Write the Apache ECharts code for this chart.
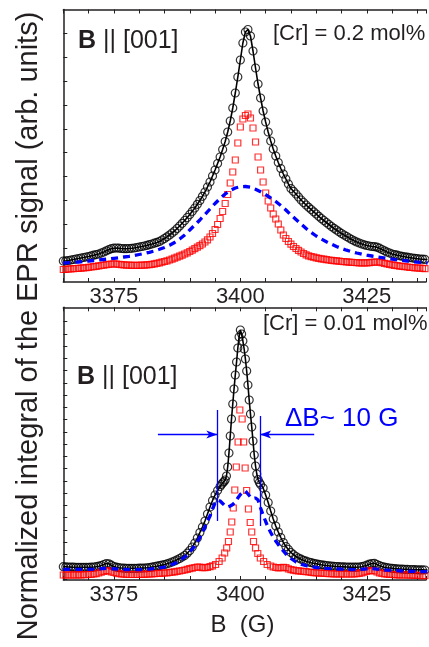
<!DOCTYPE html>
<html><head><meta charset="utf-8">
<script src="https://cdn.jsdelivr.net/npm/echarts@6/dist/echarts.min.js"></script>
<style>html,body{margin:0;padding:0;background:#fff}#c{width:429px;height:647px}</style>
</head><body><div id="c"></div>
<script>
// ---------- tick labels ----------
const xLabels = [3375, 3400, 3425];

// ---------- TOP PANEL ([Cr] = 0.2 mol%) ----------
const topX = [
3365,3365.5,3366,3366.5,3367,3367.5,3368,3368.5,3369,3369.5,
3370,3370.5,3371,3371.5,3372,3372.5,3373,3373.5,3374,3374.5,
3375,3375.5,3376,3376.5,3377,3377.5,3378,3378.5,3379,3379.5,
3380,3380.5,3381,3381.5,3382,3382.5,3383,3383.5,3384,3384.5,
3385,3385.5,3386,3386.5,3387,3387.5,3388,3388.5,3389,3389.5,
3390,3390.5,3391,3391.5,3392,3392.5,3393,3393.5,3394,3394.5,
3395,3395.5,3396,3396.5,3397,3397.5,3398,3398.5,3399,3399.5,
3400,3400.5,3401,3401.5,3402,3402.5,3403,3403.5,3404,3404.5,
3405,3405.5,3406,3406.5,3407,3407.5,3408,3408.5,3409,3409.5,
3410,3410.5,3411,3411.5,3412,3412.5,3413,3413.5,3414,3414.5,
3415,3415.5,3416,3416.5,3417,3417.5,3418,3418.5,3419,3419.5,
3420,3420.5,3421,3421.5,3422,3422.5,3423,3423.5,3424,3424.5,
3425,3425.5,3426,3426.5,3427,3427.5,3428,3428.5,3429,3429.5,
3430,3430.5,3431,3431.5,3432,3432.5,3433,3433.5,3434,3434.5,
3435,3435.5,3436,3436.5,3437];
const topBlack = [
21,21.2,21.5,22,22.5,23,23.5,24,24.5,25,
25.5,26.1,26.8,27.4,28,29,30,31.2,32.3,33.3,
33.8,34,33.8,33.5,33.3,33.3,33.5,33.7,34,34.5,
35,35.5,36,36.6,37.3,38,38.8,39.6,40.5,42,
43.5,45.2,47,49,51,53.5,56,58.7,61.5,64.5,
67.5,70.7,74,77.7,81.5,85.7,90,95,100,106,
112,118.5,125,132.5,140.5,150,161,174,189,205,
222,239,250,252.5,246,231,214,198,184,171,
160,150,141,133,126,119.5,113.5,108,103,98,
93.5,90.7,88,85,82,79.5,77,74.7,72.5,70.2,
68,65.7,63.5,61.5,59.5,57.5,55.5,53.7,52,50.2,
48.5,47,45.5,44,42.5,41.2,40,39,38,37.2,
36.5,36,35.5,35.3,34.8,33.8,32.5,31.2,30,29,
28,27.4,26.8,26.2,25.7,25.2,24.8,24.4,24,23.6,
23.3,23,22.8,22.6,22.5];
const topRed = [
12.5,12.7,13,13.2,13.3,13.5,13.7,13.9,14.1,14.4,
14.7,15,15.3,15.7,16.1,16.5,16.9,17.3,17.7,18,
18.2,18,17.7,17.4,17.1,16.9,16.8,16.7,16.7,16.7,
16.7,16.8,16.9,17.1,17.3,17.7,18.1,18.6,19.2,19.8,
20.5,21.2,22,22.9,23.8,24.8,25.8,26.9,28,29.2,
30.5,31.9,33.3,34.8,36.3,38,40,42.2,45,48.5,
52.5,57.5,63.5,70.5,78.5,87.5,99,110,122,139,
155,163,166.5,168,164,154,140,125,112,100,
89,81,74,68,63,58,52,47,43.5,40.5,
37.8,35.5,33.5,31.7,30,28.5,27.2,26.2,25.4,24.8,
24.2,23.7,23.2,22.8,22.4,22,21.7,21.4,21.1,20.8,
20.5,20.3,20.1,19.9,19.7,19.5,19.3,19.2,19.1,19.1,
19.2,19.4,19.7,19.9,20,19.8,19.3,18.7,18.1,17.6,
17.1,16.7,16.3,15.9,15.6,15.3,15,14.7,14.5,14.2,
14,13.8,13.6,13.4,13.2];
const topBlueX = [
3365,3366,3367,3368,3369,3370,3371,3372,3373,3374,
3375,3376,3377,3378,3379,3380,3381,3382,3383,3384,
3385,3386,3387,3388,3389,3390,3391,3392,3393,3394,
3395,3396,3397,3398,3399,3400,3401,3402,3403,3404,
3405,3406,3407,3408,3409,3410,3411,3412,3413,3414,
3415,3416,3417,3418,3419,3420,3421,3422,3423,3424,
3425,3426,3427,3428,3429,3430,3431,3432,3433,3434,
3435,3436,3437];
const topBlue = [
19,19.3,19.7,20,20.5,21,21.5,22,22.5,23,
23.7,24.3,25,25.7,26.5,27.5,28.5,29.7,31,32.7,
34.5,36.7,39.5,43,47,52,57,62,67.5,73,
78.5,83.5,88,91.5,94,95.3,95.5,94.7,92.7,90.3,
87.3,84,80.5,76.5,72,67,62.5,58,53.5,49.5,
46,43,40.3,37.8,35.5,33.5,31.8,30.3,29,27.8,
26.8,26,25.2,24.4,23.6,22.9,22.2,21.6,21,20.4,
19.9,19.4,19];

// ---------- BOTTOM PANEL ([Cr] = 0.01 mol%) ----------
const botBlackX = [
3365,3365.5,3366,3366.5,3367,3367.5,3368,3368.5,3369,3369.5,
3370,3370.5,3371,3371.5,3372,3372.5,3373,3373.5,3374,3374.5,
3375,3375.5,3376,3376.5,3377,3377.5,3378,3378.5,3379,3379.5,
3380,3380.5,3381,3381.5,3382,3382.5,3383,3383.5,3384,3384.5,
3385,3385.5,3386,3386.5,3387,3387.5,3388,3388.5,3389,3389.5,
3390,3390.5,3391,3391.5,3392,3392.5,3393,3393.5,3394,3394.5,
3395,3395.5,3396,
3396.25,3396.5,3396.75,3397,3397.25,3397.5,3397.75,3398,3398.25,3398.5,
3398.75,3399,3399.25,3399.5,3399.75,3400,3400.25,3400.5,3400.75,3401,
3401.25,3401.5,3401.75,3402,3402.25,3402.5,3402.75,3403,3403.25,3403.5,
3403.75,3404,
3404.5,3405,3405.5,3406,3406.5,3407,3407.5,3408,3408.5,3409,
3409.5,3410,3410.5,3411,3411.5,3412,3412.5,3413,3413.5,3414,
3414.5,3415,3415.5,3416,3416.5,3417,3417.5,3418,3418.5,3419,
3419.5,3420,3420.5,3421,3421.5,3422,3422.5,3423,3423.5,3424,
3424.5,3425,3425.5,3426,3426.5,3427,3427.5,3428,3428.5,3429,
3429.5,3430,3430.5,3431,3431.5,3432,3432.5,3433,3433.5,3434,
3434.5,3435,3435.5,3436,3436.5,3437];
const botBlack = [
13.3,13.2,13,12.9,12.8,12.7,12.7,12.7,12.7,12.7,
12.7,12.8,13,13.3,13.8,14.5,15.5,16.5,16.2,14.8,
13.5,12.8,12.3,12,11.8,11.7,11.7,11.7,11.7,11.7,
11.8,11.9,12,12.2,12.5,12.9,13.3,13.8,14.3,14.9,
15.5,16.2,17,18,19,20.2,21.5,23,24.5,26.8,
29.5,33,37,42,47.5,53,59,66,73,79.5,
85,89.5,93.5,
95.5,97,98.3,100,104,113,127,144,161,176,
191,205,218,232,243,250,246,239,231,221,
209,195,180,166,153,139,125,114,106,100.5,
97.5,95.5,
92,85,77.5,69,61,54,48,42.5,37.5,33.5,
30.5,27.5,25.3,23.5,22,20.8,19.7,18.8,18,17.3,
16.7,16.2,15.7,15.2,14.8,14.5,14.2,14,13.7,13.5,
13.3,13.2,13.1,13,12.9,12.8,12.8,12.8,13,13.3,
14,14.8,15.8,16.5,16.7,15.5,14.3,13.5,12.8,12.3,
12,11.7,11.4,11.2,11,10.8,10.7,10.6,10.5,10.4,
10.3,10.2,10.1,10.1,10,10];
const botRedX = [
3365,3365.5,3366,3366.5,3367,3367.5,3368,3368.5,3369,3369.5,
3370,3370.5,3371,3371.5,3372,3372.5,3373,3373.5,3374,3374.5,
3375,3375.5,3376,3376.5,3377,3377.5,3378,3378.5,3379,3379.5,
3380,3380.5,3381,3381.5,3382,3382.5,3383,3383.5,3384,3384.5,
3385,3385.5,3386,3386.5,3387,3387.5,3388,3388.5,3389,3389.5,
3390,3390.5,3391,3391.5,3392,3392.5,3393,3393.5,3394,3394.5,
3395.1,3395.8,3396.4,3396.9,3397.3,3397.65,3398,3398.3,3398.6,3398.9,
3399.2,3399.55,3399.9,3400.35,3400.65,3400.95,3401.25,3401.6,3401.95,3402.25,
3402.6,3403,3403.45,3403.95,3404.6,3405.3,
3406,3406.5,3407,3407.5,3408,3408.5,3409,3409.5,3410,3410.5,
3411,3411.5,3412,3412.5,3413,3413.5,3414,3414.5,3415,3415.5,
3416,3416.5,3417,3417.5,3418,3418.5,3419,3419.5,3420,3420.5,
3421,3421.5,3422,3422.5,3423,3423.5,3424,3424.5,3425,3425.5,
3426,3426.5,3427,3427.5,3428,3428.5,3429,3429.5,3430,3430.5,
3431,3431.5,3432,3432.5,3433,3433.5,3434,3434.5,3435,3435.5,
3436,3436.5,3437];
const botRed = [
5,5,5,5,5,5.1,5.2,5.2,5.3,5.4,
5.5,5.7,6,6.4,7,7.8,8.7,9.3,9,8.2,
7.5,6.8,6.3,6,5.8,5.6,5.5,5.5,5.5,5.5,
5.5,5.6,5.7,5.8,6,6.1,6.3,6.5,6.7,6.8,
7,7.2,7.5,7.8,8.2,8.6,9,9.5,10,10.6,
11.3,11.9,12.5,13,12.8,12.4,12.3,12.6,13.3,14.2,
15.5,18.5,22,27,32,38.5,48,58,72,90,
113,138,170,161,138,112,89.5,71,57.5,48,
38.5,32,26.5,22,18.5,15.5,
14,13,12.5,12.2,12.3,12.7,12.3,11.2,10.3,9.8,
9.4,9.1,8.8,8.5,8.3,8,7.7,7.4,7.2,7,
6.8,6.6,6.5,6.4,6.3,6.2,6.2,6.1,6,6,
6,6,6,6.1,6.3,6.7,7.2,7.9,8.7,9.3,
9.5,9,8,7.2,6.5,6.1,5.8,5.6,5.5,5.3,
5.2,5.1,5,5,5,4.9,4.8,4.7,4.6,4.5,
4.4,4.4,4.3];
const botBlueX = [
3365,3366,3367,3368,3369,3370,3371,3372,3373,3374,
3375,3376,3377,3378,3379,3380,3381,3382,3383,3384,
3385,3386,3387,3388,3389,
3389.5,3390,3390.5,3391,3391.5,3392,3392.5,3393,3393.5,3394,
3394.5,3395,3395.5,3396,3396.5,3397,3397.5,3398,3398.5,3399,
3399.5,3400,3400.5,3401,3401.5,3402,3402.5,3403,3403.5,3404,
3404.5,3405,3405.5,3406,3406.5,3407,3407.5,3408,3408.5,3409,
3409.5,3410,
3411,3412,3413,3414,3415,3416,3417,3418,3419,3420,
3421,3422,3423,3424,3425,3426,3427,3428,3429,3430,
3431,3432,3433,3434,3435,3436,3437];
const botBlue = [
10.7,10.7,10.7,10.7,10.7,10.7,10.8,11,11.5,11.7,
11.2,10.7,10.5,10.3,10.3,10.3,10.5,10.8,11.3,12,
13,14.5,16.5,19.5,23,
25.3,28,31,34,38,42.5,47.5,53,58.5,64,
71,77,80,79,76.5,74,73,74,75.5,78,
82,85.5,88,89,86,83,81.5,82,80,72,
65,58.5,52.5,47.5,43,39,35.5,32,29,26,
23.5,21.5,
18,15.8,14.3,13.3,12.5,12,11.6,11.3,11,10.8,
10.6,10.4,10.4,10.6,11.2,11.5,10.8,10.2,9.8,9.5,
9.3,9,8.8,8.6,8.5,8.4,8.3];

// width-marker annotation (bottom panel), in data units
const dBLeftB = 3395.45, dBRightB = 3403.9;

// ---------- build ----------
const zip = (xs, ys) => xs.map((x, i) => [x, ys[i]]);
const FONT = '"Liberation Sans", Arial, Helvetica, sans-serif';
const INK = '#231f20';

const topTicks = [], botTicks = [];
for (let k = 1; k <= 11; k++) topTicks.push(272.5 - 23.85 * k);
for (let k = 0; k <= 21; k++) botTicks.push(258.4 - 12.25 * k);

function xAx(grid, pos, labels) {
  return {
    type: 'value', gridIndex: grid, position: pos, min: 3365, max: 3436.7, interval: 5,
    axisLine: { show: true, onZero: false, lineStyle: { color: INK, width: 1.5 } },
    axisTick: { show: true, inside: true, length: 4, lineStyle: { color: INK, width: 1 } },
    axisLabel: labels ? {
      show: true, fontSize: 22, color: INK, fontFamily: FONT, margin: 4,
      formatter: v => xLabels.indexOf(v) >= 0 ? String(v) : ''
    } : { show: false },
    splitLine: { show: false }
  };
}
function yAx(grid, max, ticks) {
  return {
    type: 'value', gridIndex: grid, min: 0, max: max,
    axisLine: { show: true, lineStyle: { color: INK, width: 1.5 } },
    axisTick: { show: true, inside: true, length: 4, customValues: ticks, lineStyle: { color: INK, width: 1 } },
    axisLabel: { show: false },
    splitLine: { show: false }
  };
}
const circleStyle = { color: 'rgba(0,0,0,0)', borderColor: '#000', borderWidth: 1.2 };
const squareStyle = { color: 'rgba(0,0,0,0)', borderColor: '#ff0000', borderWidth: 1.2 };
const blueLine = { color: '#0000ff', width: 3.3, type: [7, 5], cap: 'butt' };

function panelSeries(xi, yi, bx, by, rx, ry, ux, uy, extraBlue, extraRed) {
  return [
    { type: 'scatter', xAxisIndex: xi, yAxisIndex: yi, data: zip(bx, by), symbol: 'circle', symbolSize: 8, itemStyle: circleStyle, z: 2 },
    { type: 'line', xAxisIndex: xi, yAxisIndex: yi, data: zip(bx, by), showSymbol: false, lineStyle: { color: '#000', width: 1.6 }, z: 3 },
    Object.assign({ type: 'scatter', xAxisIndex: xi, yAxisIndex: yi, data: zip(rx, ry), symbol: 'rect', symbolSize: 6, itemStyle: squareStyle, z: 4 }, extraRed || {}),
    Object.assign({ type: 'line', xAxisIndex: xi, yAxisIndex: yi, data: zip(ux, uy), showSymbol: false, lineStyle: blueLine, z: 5 }, extraBlue || {})
  ];
}

const mlBase = { silent: true, animation: false, label: { show: false }, emphasis: { disabled: true } };
const vertLines = Object.assign({}, mlBase, {
  symbol: ['none', 'none'],
  lineStyle: { color: '#0000ff', width: 1.3, type: 'solid' },
  data: [
    [{ coord: [dBLeftB, 170] }, { coord: [dBLeftB, 59] }],
    [{ coord: [dBRightB, 164] }, { coord: [dBRightB, 54] }]
  ]
});
const arrows = Object.assign({}, mlBase, {
  symbol: ['none', 'arrow'], symbolSize: [6, 11],
  lineStyle: { color: '#0000ff', width: 1.3, type: 'solid' },
  data: [
    [{ coord: [3383.7, 145.5] }, { coord: [dBLeftB, 145.5] }],
    [{ coord: [3414.6, 145.5] }, { coord: [dBRightB, 145.5] }]
  ]
});

const option = {
  animation: false,
  backgroundColor: '#fff',
  textStyle: { fontFamily: FONT },
  grid: [
    { left: 63.3, top: 9.5, width: 365.7, height: 272.5 },
    { left: 63.3, top: 307.3, width: 365.7, height: 272.7 }
  ],
  xAxis: [xAx(0, 'bottom', true), xAx(0, 'top', false), xAx(1, 'bottom', true), xAx(1, 'top', false)],
  yAxis: [yAx(0, 272.5, topTicks), yAx(1, 272.7, botTicks)],
  series: [].concat(
    panelSeries(0, 0, topX, topBlack, topX, topRed, topBlueX, topBlue),
    panelSeries(2, 1, botBlackX, botBlack, botRedX, botRed, botBlueX, botBlue, { markLine: arrows }, { markLine: vertLines })
  ),
  graphic: { elements: [
    { type: 'text', x: 29, y: 326, rotation: Math.PI / 2, style: {
        text: 'Normalized integral of the EPR signal (arb. units)', fontSize: 29, fontFamily: FONT,
        fill: INK, align: 'center', verticalAlign: 'middle' } },
    { type: 'text', x: 78, y: 41, style: {
        text: '{b|B} || [001]', fontSize: 25, fontFamily: FONT, fill: INK, align: 'left', verticalAlign: 'middle',
        rich: { b: { fontWeight: 'bold', fontSize: 25, fontFamily: FONT, fill: INK } } } },
    { type: 'text', x: 273, y: 34, style: {
        text: '[Cr] = 0.2 mol%', fontSize: 22, fontFamily: FONT, fill: INK, align: 'left', verticalAlign: 'middle' } },
    { type: 'text', x: 77, y: 377, style: {
        text: '{b|B} || [001]', fontSize: 25, fontFamily: FONT, fill: INK, align: 'left', verticalAlign: 'middle',
        rich: { b: { fontWeight: 'bold', fontSize: 25, fontFamily: FONT, fill: INK } } } },
    { type: 'text', x: 263, y: 324, style: {
        text: '[Cr] = 0.01 mol%', fontSize: 22, fontFamily: FONT, fill: INK, align: 'left', verticalAlign: 'middle' } },
    { type: 'text', x: 285, y: 419, style: {
        text: '\u0394B~ 10 G', fontSize: 26, fontFamily: FONT, fill: '#0000ff', align: 'left', verticalAlign: 'middle' } },
    { type: 'text', x: 242.5, y: 625, style: {
        text: 'B  (G)', fontSize: 24, fontFamily: FONT, fill: INK, align: 'center', verticalAlign: 'middle' } }
  ] }
};

const chart = echarts.init(document.getElementById('c'), null, { renderer: 'canvas' });
chart.setOption(option);
</script>
</body></html>
